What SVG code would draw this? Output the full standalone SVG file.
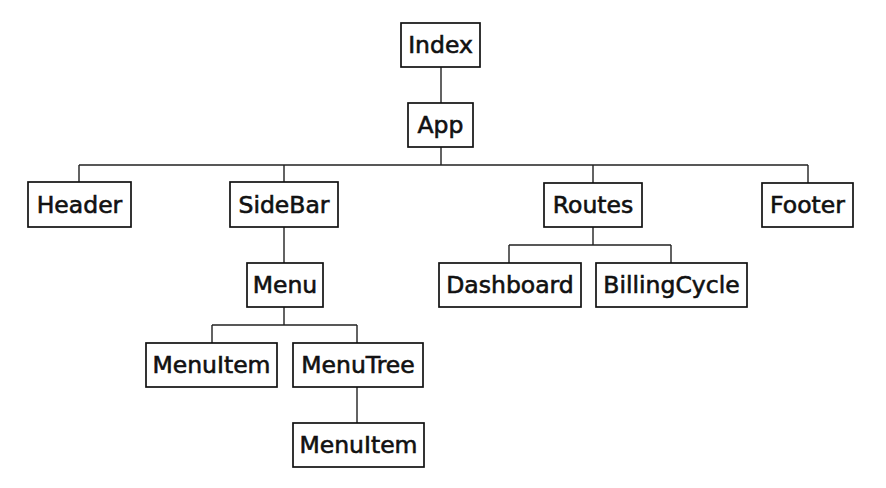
<svg xmlns="http://www.w3.org/2000/svg" width="886" height="488" viewBox="0 0 886 488">
<style>
.box{fill:#fff;stroke:#111;stroke-width:1.7}
.lbl{font-family:"DejaVu Sans","Liberation Sans",sans-serif;font-size:23.5px;fill:#111;stroke:#111;stroke-width:0.6;text-anchor:middle;dominant-baseline:central}
.con{fill:none;stroke:#222;stroke-width:1.4}
</style>
<rect width="886" height="488" fill="#fff"/>
<g id="connectors">
<path class="con" d="M441 67V103M441 147V165M79 165H808M79 165V182M284 165V182M593 165V183M808 165V183"/>
<path class="con" d="M284 227V263M284 307V325M212 325H357M212 325V343M357 325V343M357 387V423"/>
<path class="con" d="M593 227V245M509 245H671M509 245V263M671 245V263"/>
</g>
<g id="index"><rect class="box" x="401" y="23" width="79" height="44"/><text class="lbl" x="440.5" y="45">Index</text></g>
<g id="app"><rect class="box" x="408" y="103" width="65" height="44"/><text class="lbl" x="440.5" y="125">App</text></g>
<g id="header"><rect class="box" x="28" y="182" width="103" height="45"/><text class="lbl" x="79.5" y="204.5">Header</text></g>
<g id="sidebar"><rect class="box" x="230" y="182" width="108" height="45"/><text class="lbl" x="284" y="204.5">SideBar</text></g>
<g id="routes"><rect class="box" x="544" y="183" width="98" height="44"/><text class="lbl" x="593" y="205">Routes</text></g>
<g id="footer"><rect class="box" x="762" y="183" width="91" height="44"/><text class="lbl" x="807.5" y="205">Footer</text></g>
<g id="menu"><rect class="box" x="247" y="263" width="76" height="44"/><text class="lbl" x="285" y="285">Menu</text></g>
<g id="dashboard"><rect class="box" x="439" y="263" width="142" height="44"/><text class="lbl" x="510" y="285">Dashboard</text></g>
<g id="billingcycle"><rect class="box" x="596" y="263" width="151" height="44"/><text class="lbl" x="671.5" y="285">BillingCycle</text></g>
<g id="menuitem1"><rect class="box" x="146" y="343" width="131" height="44"/><text class="lbl" x="211.5" y="365">MenuItem</text></g>
<g id="menutree"><rect class="box" x="293" y="343" width="130" height="44"/><text class="lbl" x="358" y="365">MenuTree</text></g>
<g id="menuitem2"><rect class="box" x="293" y="423" width="131" height="44"/><text class="lbl" x="358.5" y="445">MenuItem</text></g>
</svg>
